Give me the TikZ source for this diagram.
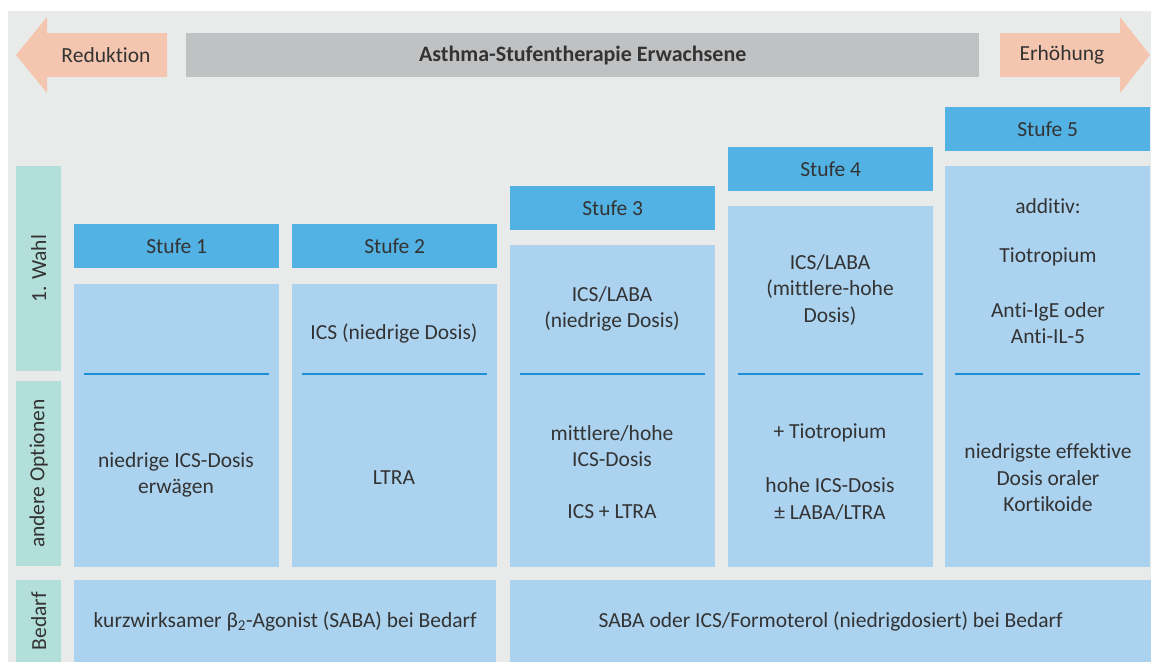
\documentclass[tikz,border=0pt]{standalone}
\usepackage{fontspec}
\setmainfont[Ligatures=NoCommon]{Carlito}
\usetikzlibrary{calc}

\definecolor{grund}{HTML}{E9EBEB}
\definecolor{pfeil}{HTML}{F4C6AF}
\definecolor{titelgrau}{HTML}{C0C1C3}
\definecolor{stufenblau}{HTML}{52B2E4}
\definecolor{feldblau}{HTML}{ABD2EF}
\definecolor{mint}{HTML}{B2DFDA}
\definecolor{trennblau}{HTML}{1D8FD6}

\begin{document}
\begin{tikzpicture}[x=1pt, y=-1pt,
    every node/.style={font=\fontsize{21.5}{26.5}\selectfont, text=black!80, align=center, inner sep=0pt},
    box/.style={draw=none, anchor=north west, minimum width=205pt},
    kopf/.style={box, fill=stufenblau, minimum height=44pt},
    feld/.style={box, fill=feldblau},
    seite/.style={box, fill=mint, minimum width=45pt}]
        \useasboundingbox (0,0) rectangle (1151,662);
        \fill[white] (0,0) rectangle (1151,662);
        \fill[grund] (8,11) rectangle (1151,662);

        % Arrows and title bar
        \fill[pfeil] (16,55) -- (47,17) -- (47,33) -- (167,33) -- (167,77) -- (47,77) -- (47,93) -- cycle;
        \fill[pfeil] (1150,55) -- (1120,17) -- (1120,33) -- (1000,33) -- (1000,77) -- (1120,77) -- (1120,93) -- cycle;
        \node (reduktion) at (106,55) {Reduktion};
        \node (erhoehung) at (1062,55) {Erhöhung};
        \node[box, fill=titelgrau, minimum width=793pt, minimum height=44pt] (titel) at (186,33) {};
        \node[font=\fontsize{22}{26}\selectfont\bfseries] (titeltext) at (titel.center) {Asthma-Stufentherapie Erwachsene};

        % Row labels on the left
        \node[seite, minimum height=205pt] (wahl) at (16,166) {};
        \node[seite, minimum height=185pt] (optionen) at (16,381) {};
        \node[seite, minimum height=82pt] (bedarf) at (16,580) {};
        \node[rotate=90] (wahltext) at (wahl.center) {1. Wahl};
        \node[rotate=90] (optionentext) at (optionen.center) {andere Optionen};
        \node[rotate=90] (bedarftext) at (bedarf.center) {Bedarf};

        % Steps: header, body and separator line
        \foreach \i/\x/\k/\f in {1/74/224/284, 2/292/224/284, 3/510/186/245, 4/728/147/206, 5/945/107/166} {
            \pgfmathsetmacro\h{567-\f}
            \node[kopf] (kopf\i) at (\x,\k) {Stufe \i};
            \node[feld, minimum height=\h pt] (feld\i) at (\x,\f) {};
            \draw[trennblau, line width=1.5pt] ({\x+10},374) -- ({\x+195},374);
        }

        % First choice
        \node (wahl2) at (394,333) {ICS (niedrige Dosis)};
        \node (wahl3) at (612,309) {ICS/LABA\\(niedrige Dosis)};
        \node (wahl4) at (830,290) {ICS/LABA\\(mittlere-hohe\\Dosis)};
        \node (wahl5a) at (1048,206) {additiv:};
        \node (wahl5b) at (1048,257) {Tiotropium};
        \node (wahl5c) at (1048,323) {Anti-IgE oder\\Anti-IL-5};

        % Other options
        \node (option1) at (176,475) {niedrige ICS-Dosis\\erwägen};
        \node (option2) at (394,478) {LTRA};
        \node (option3a) at (612,446) {mittlere/hohe\\ICS-Dosis};
        \node (option3b) at (612,512) {ICS + LTRA};
        \node (option4a) at (830,433) {+ Tiotropium};
        \node (option4b) at (830,499) {hohe ICS-Dosis\\± LABA/LTRA};
        \node (option5) at (1048,478) {niedrigste effektive\\Dosis oraler\\Kortikoide};

        % Reliever row
        \node[feld, minimum width=422pt, minimum height=82pt] (saba) at (74,580) {};
        \node[feld, minimum width=641pt, minimum height=82pt] (formoterol) at (510,580) {};
        \node (sabatext) at (saba.center) {kurzwirksamer β\textsubscript{2}-Agonist (SABA) bei Bedarf};
        \node (formoteroltext) at (formoterol.center) {SABA oder ICS/Formoterol (niedrigdosiert) bei Bedarf};
    \end{tikzpicture}
\end{document}
